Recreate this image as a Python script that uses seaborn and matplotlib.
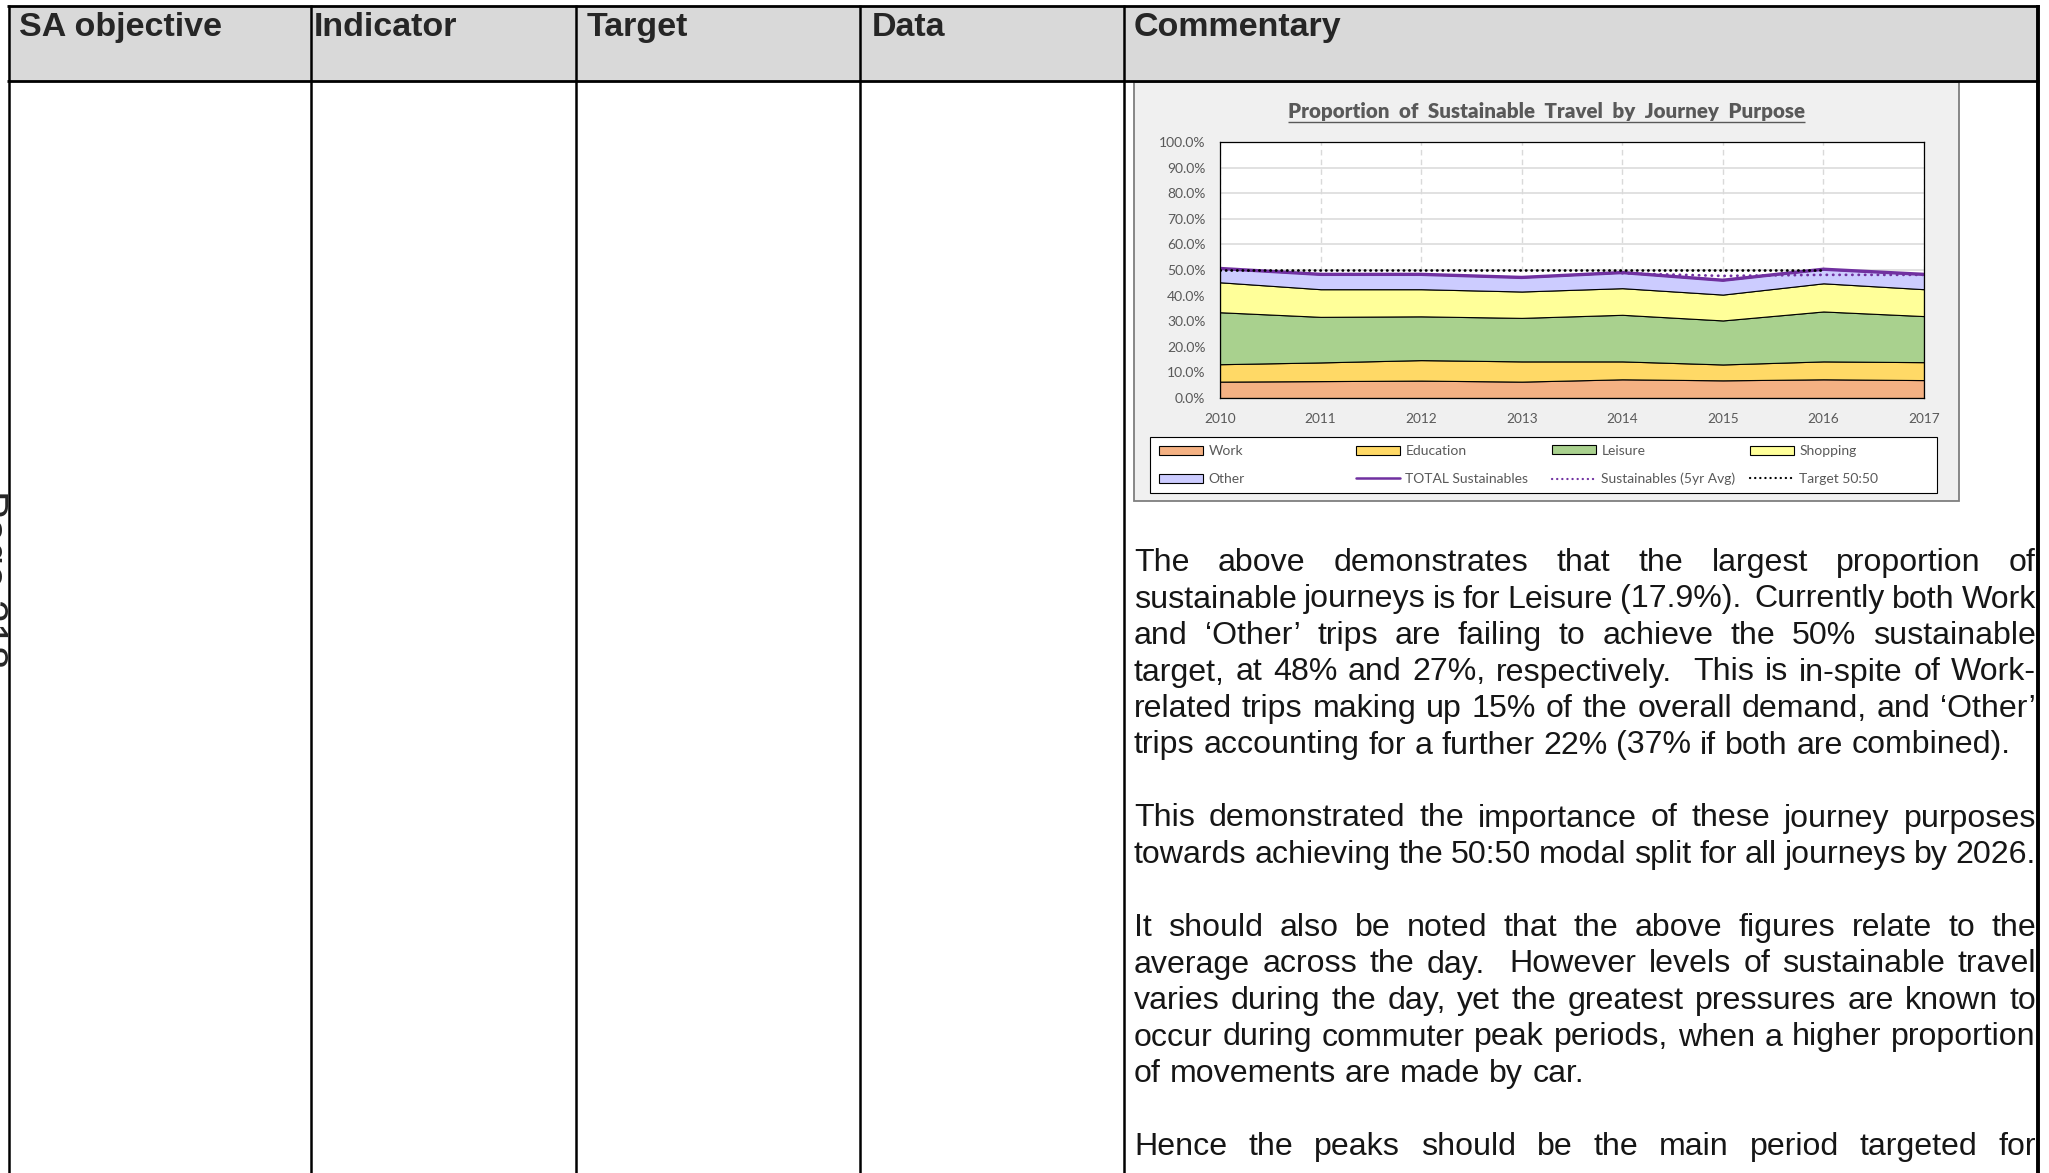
import numpy as np
import matplotlib.pyplot as plt
import seaborn as sns
from matplotlib.patches import Rectangle, Patch
from matplotlib.lines import Line2D
from matplotlib.ticker import PercentFormatter, MultipleLocator

sns.set_style("white")
plt.rcParams['font.family'] = ['Liberation Sans', 'DejaVu Sans']

W, H = 2049, 1173

# sustainable share of journeys by purpose (%)
years = [2010, 2011, 2012, 2013, 2014, 2015, 2016, 2017]
work = [6.4, 6.6, 6.8, 6.4, 7.3, 6.9, 7.3, 7.0]
education = [6.8, 7.3, 8.0, 7.9, 7.0, 6.2, 7.0, 7.0]
leisure = [20.3, 17.8, 17.1, 17.0, 18.2, 17.2, 19.5, 18.0]
shopping = [11.7, 10.8, 10.6, 10.3, 10.4, 10.1, 11.0, 10.5]
other = [5.4, 5.8, 5.8, 5.5, 6.1, 5.6, 5.5, 5.8]
total = [50.6, 48.3, 48.3, 47.1, 49.0, 46.0, 50.3, 48.3]
avg_5yr = [np.nan, np.nan, np.nan, np.nan, 48.7, 47.7, 48.1, 48.1]
target = [50, 50, 50, 50, 50, 50, 50, np.nan]

area_names = ['Work', 'Education', 'Leisure', 'Shopping', 'Other']
area_colors = ['#F4B183', '#FFD966', '#A9D18E', '#FFFF99', '#CCCCFF']
purple = '#7030A0'

headers = ['SA objective', 'Indicator', 'Target', 'Data', 'Commentary']
header_x = [19, 314, 587, 872, 1134]
col_lines = [8.5, 311, 576, 860, 1124]

# (line, justified?)
paragraphs = [
    [("The above demonstrates that the largest proportion of", True),
     ("sustainable journeys is for Leisure (17.9%).  Currently both Work", True),
     ("and \u2018Other\u2019 trips are failing to achieve the 50% sustainable", True),
     ("target, at 48% and 27%, respectively.  This is in-spite of Work-", True),
     ("related trips making up 15% of the overall demand, and \u2018Other\u2019", True),
     ("trips accounting for a further 22% (37% if both are combined).", False)],
    [("This demonstrated the importance of these journey purposes", True),
     ("towards achieving the 50:50 modal split for all journeys by 2026.", True)],
    [("It should also be noted that the above figures relate to the", True),
     ("average across the day.  However levels of sustainable travel", True),
     ("varies during the day, yet the greatest pressures are known to", True),
     ("occur during commuter peak periods, when a higher proportion", True),
     ("of movements are made by car.", False)],
    [("Hence the peaks should be the main period targeted for", True)],
]

fig = plt.figure(figsize=(W / 100, H / 100), dpi=100)
fig.patch.set_facecolor('white')

# page / table layer in pixel coordinates
bg = fig.add_axes([0, 0, 1, 1])
bg.axis('off')
bg.set_autoscale_on(False)
bg.set_xlim(0, W)
bg.set_ylim(H, 0)

bg.add_patch(Rectangle((8, 6), 2030, 75, fc='#D9D9D9', ec='none'))
bg.vlines(col_lines, 5, H, color='black', lw=1.8)
bg.vlines(2038, 5, H, color='black', lw=2.8)
bg.hlines([6, 81], 7, 2039, color='black', lw=2.0)
for txt, x in zip(headers, header_x):
    bg.text(x, 36, txt, fontsize=24.5, weight='bold', va='baseline', ha='left')

bg.text(9, 490, 'Page 218', rotation=-90, fontsize=30, ha='right', va='top')

# chart frame + legend box
bg.add_patch(Rectangle((1134, 82), 825, 419, fc='#F0F0F0', ec='#7F7F7F', lw=1.3))
bg.add_patch(Rectangle((1150, 437), 787, 56, fc='white', ec='black', lw=0.8))
title = bg.text(1546.5, 118, 'Proportion  of  Sustainable  Travel  by  Journey  Purpose',
                ha='center', va='baseline', family='Lato', weight='heavy',
                fontsize=14.8, color='#595959')

ax = fig.add_axes([1220 / W, 1 - 398 / H, (1924 - 1220) / W, (398 - 142) / H])
ax.set_facecolor('white')
ax.stackplot(years, work, education, leisure, shopping, other,
             colors=area_colors, edgecolor='black', linewidth=0.8)
sns.lineplot(x=years, y=total, ax=ax, color=purple, lw=2.4)
sns.lineplot(x=years, y=avg_5yr, ax=ax, color=purple, lw=2.0,
             linestyle=(0, (0.1, 2.2)), dash_capstyle='round')
sns.lineplot(x=years, y=target, ax=ax, color='black', lw=2.0,
             linestyle=(0, (0.1, 1.9)), dash_capstyle='round')

ax.set_xlim(2010, 2017)
ax.set_ylim(0, 100)
ax.set_xticks(years)
ax.yaxis.set_major_locator(MultipleLocator(10))
ax.yaxis.set_major_formatter(PercentFormatter(100, decimals=1))
ax.set_axisbelow(True)
ax.yaxis.grid(True, color='#D9D9D9', lw=1.1)
ax.xaxis.grid(True, color='#D9D9D9', lw=1.0, linestyle=(0, (4, 3)))
for s in ax.spines.values():
    s.set_color('black')
    s.set_linewidth(0.9)
ax.tick_params(axis='x', length=3.5, width=0.9, color='black', direction='out',
               pad=7.5, labelsize=9.8, labelcolor='#595959')
ax.tick_params(axis='y', length=0, pad=10.5, labelsize=10, labelcolor='#595959')
for lab in ax.get_xticklabels() + ax.get_yticklabels():
    lab.set_fontfamily('Lato')
ax.set_xlabel('')
ax.set_ylabel('')

# legend: four equal-width columns like the Excel legend
patches = [Patch(fc=c, ec='black', lw=0.8) for c in area_colors]
line_total = Line2D([], [], color=purple, lw=1.8)
line_avg = Line2D([], [], color=purple, lw=1.6, linestyle=(0, (0.1, 2.2)), dash_capstyle='round')
line_target = Line2D([], [], color='black', lw=1.6, linestyle=(0, (0.1, 2.2)), dash_capstyle='round')
leg_cols = [
    ([patches[0], patches[4]], ['Work', 'Other']),
    ([patches[1], line_total], ['Education', 'TOTAL Sustainables']),
    ([patches[2], line_avg], ['Leisure', 'Sustainables (5yr Avg)']),
    ([patches[3], line_target], ['Shopping', 'Target 50:50']),
]
leg_x = [1159, 1356, 1552, 1750]
for (hs, ls), x in zip(leg_cols, leg_x):
    fig.legend(handles=hs, labels=ls, loc='center left',
               bbox_to_anchor=(x / W, 1 - 465 / H), frameon=False,
               borderpad=0, borderaxespad=0, handlelength=3.2, handleheight=0.6,
               handletextpad=0.35, labelspacing=1.15,
               prop={'family': 'Lato', 'size': 10}, labelcolor='#595959')

# justified commentary text
renderer = fig.canvas.get_renderer()
FS = 23.1
TEXT_L, TEXT_R = 1134, 2036


def text_width(s):
    t = bg.text(0, 0, s, fontsize=FS)
    w = t.get_window_extent(renderer).width
    t.remove()
    return w


space_w = text_width('a a') - text_width('aa')
y = 571
for para in paragraphs:
    for line, justify in para:
        words = line.split(' ')
        widths = [text_width(w) if w else 0 for w in words]
        gaps = len(words) - 1
        if justify and gaps > 0:
            gap = (TEXT_R - TEXT_L - sum(widths)) / gaps
        else:
            gap = space_w
        x = TEXT_L
        for w, wd in zip(words, widths):
            if w:
                bg.text(x, y, w, fontsize=FS, color='#161616', va='baseline', ha='left')
            x += wd + gap
        y += 36.5
    y += 36.5

# underline for the chart title
bb = title.get_window_extent(renderer)
bg.hlines(121.5, bb.x0, bb.x1, color='#595959', lw=1.0)

fig.savefig('out.png', dpi=100)
